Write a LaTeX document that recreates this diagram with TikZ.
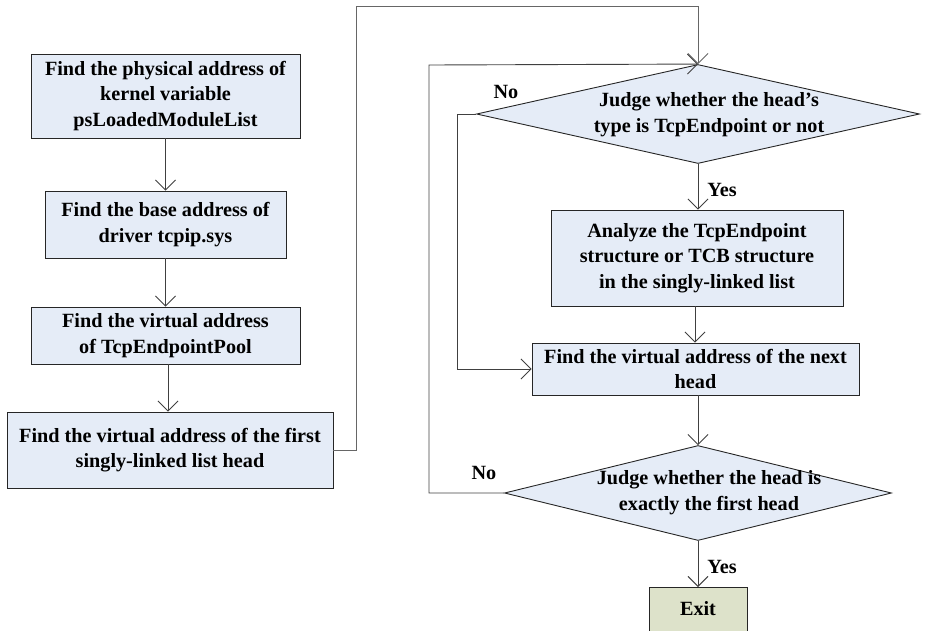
\documentclass[tikz,border=0pt]{standalone}
\usepackage{fontspec}
\setmainfont{Liberation Serif}
\usetikzlibrary{shapes.geometric,arrows.meta}
\definecolor{boxfill}{HTML}{E5ECF7}
\definecolor{exitfill}{HTML}{DDE2CA}
\definecolor{linec}{HTML}{404040}
\tikzset{
  every node/.style={font=\fontsize{20.2}{25.5}\selectfont\bfseries, inner sep=0pt, align=center},
  procbox/.style={rectangle, draw=black!85, fill=boxfill, line width=0.9pt},
  decbox/.style={diamond, draw=black!85, fill=boxfill, line width=0.9pt, inner sep=0pt},
  flow/.style={draw=linec, line width=0.9pt, -{Straight Barb[length=10pt,width=20pt]}},
  lbl/.style={font=\fontsize{20.2}{24}\selectfont\bfseries}
}
\begin{document}
\begin{tikzpicture}[x=1pt,y=-1pt]
\useasboundingbox (0,0) rectangle (937,630);
\clip (0,0) rectangle (937,630);
% left column
\node[procbox, minimum width=269pt, minimum height=84pt] (b1) at (165.5,96) {Find the physical address of\\kernel variable\\psLoadedModuleList};
\node[procbox, minimum width=241pt, minimum height=67pt] (b2) at (165.5,224.5) {Find the base address of\\driver tcpip.sys};
\node[procbox, minimum width=269pt, minimum height=57pt] (b3) at (165.5,335.5) {Find the virtual address\\of TcpEndpointPool};
\node[procbox, minimum width=326pt, minimum height=76pt] (b4) at (170,450) {Find the virtual address of the first\\singly-linked list head};
% right column
\node[decbox, minimum width=443pt, minimum height=99pt] (d1) at (698,114) {};
\node (d1t) at (709,114.5) {Judge whether the head’s\\type is TcpEndpoint or not};
\node[procbox, minimum width=292pt, minimum height=96pt] (b5) at (697,258) {Analyze the TcpEndpoint\\structure or TCB structure\\in the singly-linked list};
\node[procbox, minimum width=327pt, minimum height=52pt] (b6) at (695.5,369) {Find the virtual address of the next\\head};
\node[decbox, minimum width=387pt, minimum height=95pt] (d2) at (698,493) {};
\node (d2t) at (709,492.5) {Judge whether the head is\\exactly the first head};
\node[procbox, fill=exitfill, minimum width=98pt, minimum height=50pt, anchor=north] (ex) at (698,587) {};
\node (ext) at (698,608.5) {Exit};
% labels
\node[lbl] (no1) at (506,92) {No};
\node[lbl] (yes1) at (722,190) {Yes};
\node[lbl] (no2) at (484,473) {No};
\node[lbl] (yes2) at (722,567) {Yes};
% coordinates
\coordinate (c1) at (356,450);
\coordinate (c2) at (356,6);
\coordinate (c3) at (698,6);
\coordinate (c4) at (457,114);
\coordinate (c5) at (457,369);
\coordinate (c6) at (429,493);
\coordinate (c7) at (429,65);
% connectors
\draw[flow] (b1.south) -- (b2.north);
\draw[flow] (b2.south) -- (b3.north);
\draw[flow] (b3.south -| 168,0) -- (b4.north -| 168,0);
\draw[flow, draw=black!60] (b4.east) -- (c1) -- (c2) -- (c3) -- (d1.north);
\draw[flow] (d1.south) -- (b5.north -| d1.south);
\draw[flow] (b5.south -| 695,0) -- (b6.north -| 695,0);
\draw[flow] (d1.west) -- (c4) -- (c5) -- (b6.west);
\draw[flow] (b6.south -| d2.north) -- (d2.north);
\draw[flow] (d2.west) -- (c6) -- (c7) -- (d1.north);
\draw[flow] (d2.south) -- (ex.north);
\end{tikzpicture}
\end{document}
